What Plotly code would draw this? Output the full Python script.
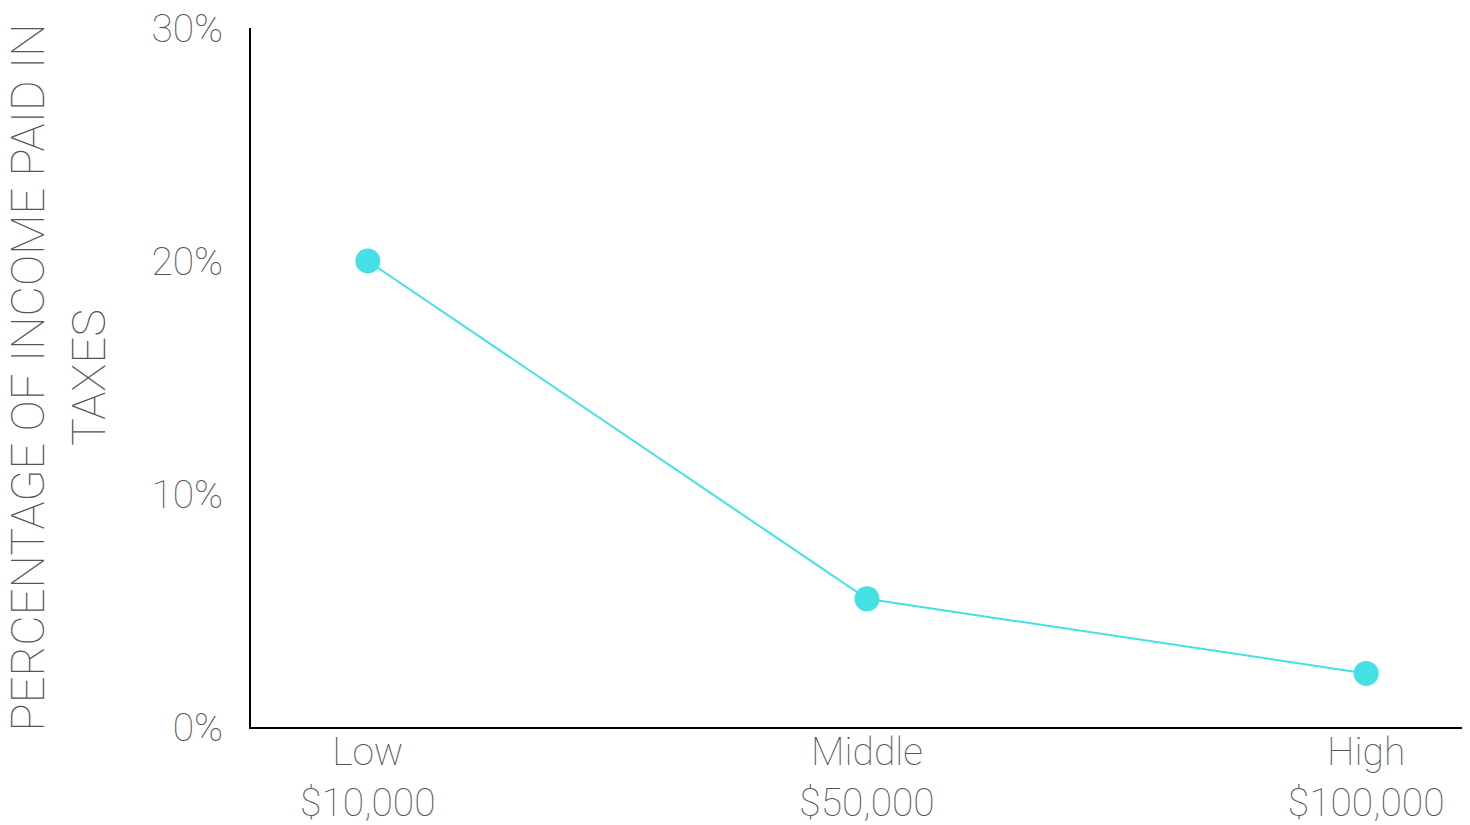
import plotly.graph_objects as go

categories = ["Low<br>$10,000", "Middle<br>$50,000", "High<br>$100,000"]
tax_pct = [20.0, 5.5, 2.3]
y_ticks = [0, 10, 20, 30]
y_tick_labels = ["0%", "10%", "20%", "30%"]

FONT = "Roboto"
TEXT = "#555555"
CYAN = "#45E0E3"
TICK_SIZE = 39
TITLE_SIZE = 47

fig = go.Figure()
fig.add_trace(go.Scatter(
    x=[0, 1, 2], y=tax_pct, mode="lines+markers",
    line=dict(color=CYAN, width=2),
    marker=dict(color=CYAN, size=25),
    showlegend=False, cliponaxis=False,
))

fig.update_layout(
    width=1470, height=825,
    margin=dict(l=251, r=8, t=28, b=98, autoexpand=False),
    paper_bgcolor="white", plot_bgcolor="white",
    font=dict(family=FONT, size=TICK_SIZE, color=TEXT, weight=100),
)
fig.update_xaxes(
    range=[-0.234, 2.192], tickvals=[0, 1, 2], ticktext=categories,
    showgrid=False, zeroline=False, showline=True, linecolor="black", linewidth=2,
    ticks="", automargin=False, ticklabelstandoff=-11,
    tickfont=dict(family=FONT, size=TICK_SIZE, color=TEXT, weight=100),
)
fig.update_yaxes(
    range=[0, 30], tickvals=y_ticks, ticktext=y_tick_labels,
    showgrid=False, zeroline=False, showline=True, linecolor="black", linewidth=2,
    ticks="", ticklabelstandoff=18, automargin=False,
    tickfont=dict(family=FONT, size=TICK_SIZE, color=TEXT, weight=100),
    title=dict(text="PERCENTAGE OF INCOME PAID IN<br>TAXES", standoff=40,
               font=dict(family=FONT, size=TITLE_SIZE, color=TEXT, weight=100)),
)

fig.write_html("out.html")
